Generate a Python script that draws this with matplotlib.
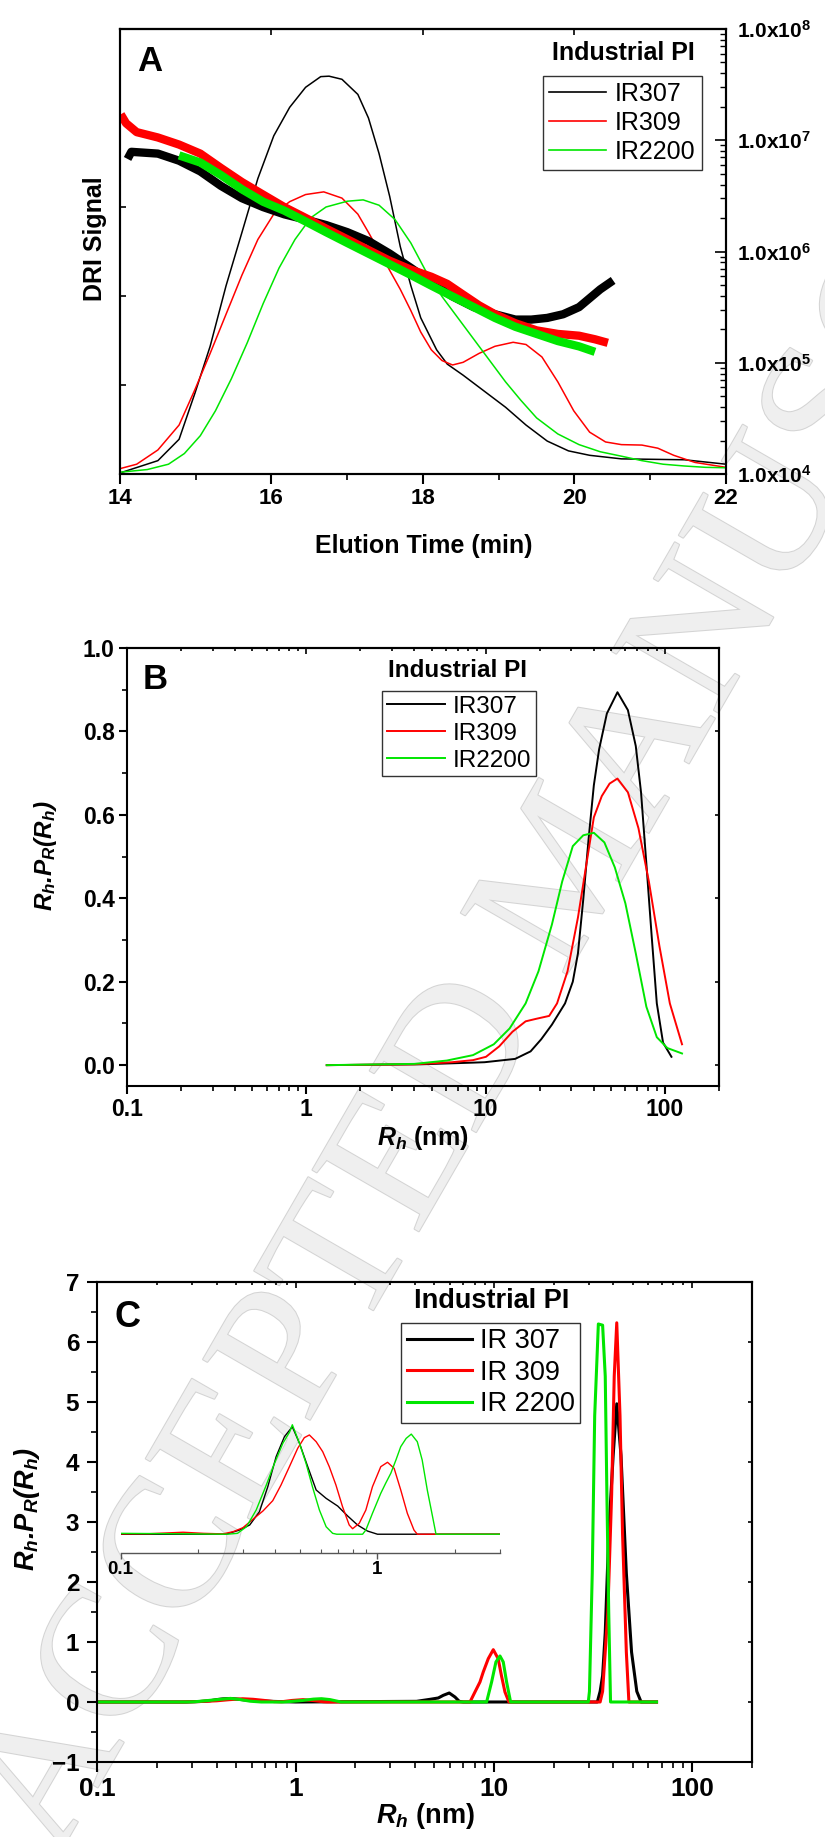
import matplotlib
matplotlib.use('Agg')
import matplotlib.pyplot as plt
import matplotlib.patheffects as pe
from matplotlib.ticker import FuncFormatter, LogLocator, NullFormatter, MultipleLocator
import numpy as np

plt.rcParams['font.family'] = ['Liberation Sans', 'DejaVu Sans']
plt.rcParams['font.weight'] = 'bold'
plt.rcParams['mathtext.fontset'] = 'custom'
plt.rcParams['mathtext.rm'] = 'Liberation Sans:bold'
plt.rcParams['mathtext.bf'] = 'Liberation Sans:bold'
plt.rcParams['mathtext.it'] = 'Liberation Sans:italic:bold'
plt.rcParams['mathtext.bfit'] = 'Liberation Sans:italic:bold'
plt.rcParams['axes.linewidth'] = 1.5

BLACK = 'black'
RED = '#ff0000'
GREEN = '#00e600'

# ---------------- panel A : GPC traces ----------------
# DRI signal (left axis, arbitrary units)
a_t_307 = [14.03, 14.50, 14.78, 14.99, 15.19, 15.40, 15.61, 15.82, 16.03, 16.24, 16.45, 16.65, 16.76,
           16.93, 17.14, 17.28, 17.42, 17.56, 17.70, 17.84, 17.97, 18.18, 18.32, 18.53, 18.81, 19.09,
           19.36, 19.64, 19.92, 20.20, 20.62, 21.45, 22.0]
a_dri_307 = [0.004, 0.030, 0.078, 0.182, 0.287, 0.423, 0.543, 0.664, 0.760, 0.824, 0.869, 0.893, 0.894,
             0.887, 0.853, 0.800, 0.720, 0.624, 0.511, 0.423, 0.351, 0.279, 0.247, 0.222, 0.186, 0.150,
             0.110, 0.074, 0.052, 0.042, 0.034, 0.032, 0.022]
a_t_309 = [14.0, 14.22, 14.50, 14.78, 14.99, 15.19, 15.40, 15.61, 15.82, 16.03, 16.24, 16.45, 16.69,
           16.93, 17.14, 17.28, 17.49, 17.70, 17.84, 17.97, 18.11, 18.25, 18.39, 18.53, 18.74, 18.95,
           19.19, 19.36, 19.57, 19.78, 19.99, 20.20, 20.41, 20.62, 20.89, 21.10, 21.31, 21.59, 22.0]
a_dri_309 = [0.012, 0.022, 0.054, 0.110, 0.190, 0.271, 0.359, 0.447, 0.527, 0.584, 0.612, 0.628, 0.634,
             0.620, 0.584, 0.543, 0.479, 0.415, 0.367, 0.319, 0.279, 0.255, 0.245, 0.251, 0.271, 0.287,
             0.296, 0.291, 0.263, 0.207, 0.142, 0.094, 0.072, 0.066, 0.065, 0.058, 0.042, 0.026, 0.015]
a_t_2200 = [14.0, 14.36, 14.64, 14.85, 15.06, 15.26, 15.47, 15.68, 15.89, 16.10, 16.31, 16.52, 16.72,
            17.00, 17.21, 17.42, 17.63, 17.84, 18.04, 18.25, 18.46, 18.67, 18.88, 19.09, 19.29, 19.50,
            19.78, 20.06, 20.34, 20.62, 20.89, 21.17, 21.45, 21.73, 22.0]
a_dri_2200 = [0.004, 0.010, 0.022, 0.046, 0.086, 0.142, 0.214, 0.295, 0.383, 0.463, 0.527, 0.576, 0.600,
              0.613, 0.616, 0.604, 0.572, 0.519, 0.455, 0.399, 0.351, 0.303, 0.255, 0.207, 0.166, 0.126,
              0.090, 0.066, 0.050, 0.040, 0.030, 0.022, 0.018, 0.015, 0.014]

# log10 molar mass (right axis)
m_t_307 = [14.10, 14.15, 14.50, 14.78, 15.06, 15.33, 15.61, 15.89, 16.17, 16.45, 16.72, 17.00, 17.28,
           17.56, 17.84, 18.11, 18.39, 18.67, 18.95, 19.22, 19.43, 19.64, 19.85, 20.06, 20.20, 20.34, 20.51]
m_log_307 = [6.832, 6.896, 6.880, 6.816, 6.720, 6.591, 6.479, 6.399, 6.334, 6.287, 6.238, 6.174, 6.094,
             5.981, 5.853, 5.725, 5.596, 5.500, 5.436, 5.388, 5.388, 5.403, 5.436, 5.500, 5.580, 5.660, 5.740]
m_t_309 = [14.01, 14.08, 14.22, 14.50, 14.78, 15.06, 15.33, 15.61, 15.89, 16.17, 16.45, 16.72, 17.00,
           17.28, 17.56, 17.84, 18.11, 18.32, 18.53, 18.74, 18.95, 19.22, 19.50, 19.78, 20.06, 20.27, 20.44]
m_log_309 = [7.233, 7.153, 7.073, 7.025, 6.961, 6.880, 6.752, 6.624, 6.511, 6.399, 6.302, 6.206, 6.110,
             6.013, 5.917, 5.837, 5.773, 5.709, 5.612, 5.516, 5.436, 5.355, 5.291, 5.259, 5.243, 5.211, 5.179]
m_t_2200 = [14.78, 15.06, 15.33, 15.61, 15.89, 16.17, 16.45, 16.72, 17.00, 17.28, 17.56, 17.84, 18.11,
            18.39, 18.67, 18.95, 19.22, 19.50, 19.78, 20.06, 20.27]
m_log_2200 = [6.864, 6.800, 6.688, 6.559, 6.447, 6.367, 6.270, 6.174, 6.077, 5.981, 5.885, 5.789, 5.693,
              5.596, 5.500, 5.403, 5.323, 5.259, 5.195, 5.147, 5.098]

# ---------------- panel B : Rh distribution from GPC ----------------
b_rh_307 = [1.30, 4.33, 8.5, 9.86, 14.6, 17.8, 20.4, 23.4, 27.7, 30.6, 32.7, 35.0, 37.5, 40.1, 42.9,
            47.4, 54.3, 62.1, 68.7, 73.5, 78.7, 84.2, 90.0, 97.5, 108.6]
b_p_307 = [0.0, 0.002, 0.006, 0.007, 0.015, 0.033, 0.062, 0.097, 0.148, 0.200, 0.268, 0.397, 0.543,
           0.671, 0.757, 0.843, 0.894, 0.851, 0.765, 0.654, 0.483, 0.311, 0.148, 0.054, 0.020]
b_rh_309 = [1.30, 4.0, 6.49, 8.5, 10.04, 11.9, 14.1, 16.7, 19.1, 22.6, 25.0, 28.6, 32.7, 36.2, 40.1,
            44.4, 49.1, 54.3, 62.1, 71.1, 81.3, 93.1, 106.4, 124.4]
b_p_309 = [0.0, 0.002, 0.007, 0.012, 0.020, 0.045, 0.080, 0.105, 0.111, 0.118, 0.148, 0.225, 0.354,
           0.474, 0.594, 0.645, 0.675, 0.687, 0.654, 0.568, 0.440, 0.285, 0.148, 0.050]
b_rh_2200 = [1.30, 4.0, 6.07, 8.5, 11.1, 13.6, 16.7, 19.7, 23.4, 26.7, 30.6, 35.0, 40.1, 45.9, 52.5,
             60.1, 68.7, 78.7, 90.0, 103.0, 124.4]
b_p_2200 = [0.0, 0.003, 0.011, 0.024, 0.050, 0.088, 0.148, 0.225, 0.337, 0.440, 0.525, 0.551, 0.557,
            0.534, 0.474, 0.388, 0.268, 0.140, 0.067, 0.041, 0.028]

# ---------------- panel C : Rh distribution from DLS ----------------
c_rh_307 = [0.1, 0.28, 0.33, 0.37, 0.40, 0.43, 0.47, 0.50, 0.55, 0.63, 0.77, 1.0, 4.07, 4.75, 5.24,
            5.55, 5.95, 6.36, 6.68, 7.0, 33.2, 34.3, 35.3, 36.4, 37.9, 39.9, 41.6, 43.7, 46.5, 49.4,
            52.5, 55.2, 66.0]
c_p_307 = [0.0, 0.0, 0.008, 0.020, 0.040, 0.052, 0.058, 0.050, 0.035, 0.020, 0.010, 0.0, 0.011, 0.044,
           0.067, 0.111, 0.150, 0.083, 0.011, 0.0, 0.0, 0.177, 0.438, 1.16, 2.80, 4.11, 4.97, 4.11, 2.145,
           0.832, 0.177, 0.0, 0.0]
c_rh_309 = [0.1, 0.15, 0.175, 0.2, 0.27, 0.33, 0.40, 0.46, 0.54, 0.61, 0.69, 0.78, 0.85, 0.96, 1.09,
            1.23, 1.39, 1.45, 7.57, 8.02, 8.50, 8.83, 9.36, 9.92, 10.5, 10.9, 11.36, 11.9, 34.3, 35.3,
            37.5, 39.2, 40.4, 41.6, 43.2, 44.5, 46.5, 47.9, 66.0]
c_p_309 = [0.0, 0.0, 0.003, 0.0, 0.0, 0.008, 0.020, 0.038, 0.054, 0.045, 0.027, 0.006, 0.004, 0.026,
           0.039, 0.024, 0.003, 0.0, 0.0, 0.167, 0.333, 0.50, 0.722, 0.872, 0.722, 0.444, 0.167, 0.0,
           0.0, 0.177, 1.49, 3.457, 5.43, 6.32, 4.77, 2.80, 0.832, 0.0, 0.0]
c_rh_2200 = [0.1, 0.28, 0.31, 0.35, 0.40, 0.47, 0.53, 0.59, 0.67, 0.87, 0.96, 1.08, 1.23, 1.35, 1.49,
             1.64, 1.69, 9.18, 9.73, 10.23, 10.72, 11.14, 11.58, 12.13, 29.9, 30.3, 31.3, 32.2, 33.6,
             35.3, 36.4, 37.1, 37.9, 38.7, 66.0]
c_p_2200 = [0.0, 0.0, 0.004, 0.02, 0.039, 0.060, 0.039, 0.013, 0.0, 0.0, 0.011, 0.025, 0.048, 0.055,
            0.040, 0.010, 0.0, 0.0, 0.333, 0.667, 0.767, 0.667, 0.333, 0.0, 0.0, 0.177, 2.145, 4.77,
            6.30, 6.28, 5.43, 3.457, 1.49, 0.0, 0.0]

# inset (0.1 - 3 nm, normalised)
i_rh_307 = [0.1, 0.257, 0.290, 0.318, 0.347, 0.374, 0.403, 0.434, 0.466, 0.497, 0.535, 0.577, 0.631,
            0.700, 0.766, 0.836, 0.914, 1.0, 3.0]
i_p_307 = [0.0, 0.0, 0.038, 0.084, 0.205, 0.432, 0.705, 0.886, 0.977, 0.826, 0.614, 0.402, 0.326,
           0.256, 0.165, 0.084, 0.029, 0.0, 0.0]
i_rh_309 = [0.1, 0.13, 0.175, 0.21, 0.25, 0.274, 0.299, 0.327, 0.358, 0.391, 0.421, 0.454, 0.489,
            0.519, 0.543, 0.577, 0.612, 0.649, 0.689, 0.731, 0.776, 0.800, 0.849, 0.901, 0.956, 1.030,
            1.094, 1.161, 1.232, 1.307, 1.387, 1.429, 3.0]
i_p_309 = [0.003, 0.005, 0.018, 0.008, 0.003, 0.023, 0.059, 0.135, 0.211, 0.305, 0.447, 0.614, 0.781,
           0.878, 0.902, 0.841, 0.750, 0.614, 0.447, 0.250, 0.084, 0.050, 0.099, 0.220, 0.432, 0.614,
           0.654, 0.599, 0.402, 0.190, 0.038, 0.0, 0.0]
i_rh_2200 = [0.1, 0.15, 0.26, 0.285, 0.309, 0.337, 0.369, 0.397, 0.428, 0.455, 0.466, 0.497, 0.527,
             0.558, 0.594, 0.631, 0.669, 0.694, 0.875, 0.901, 0.956, 1.030, 1.076, 1.127, 1.180, 1.232,
             1.293, 1.354, 1.429, 1.493, 1.563, 1.639, 1.69, 3.0]
i_p_2200 = [0.008, 0.005, 0.0, 0.008, 0.068, 0.220, 0.447, 0.644, 0.826, 0.930, 0.995, 0.826, 0.644,
            0.432, 0.220, 0.068, 0.008, 0.0, 0.0, 0.038, 0.190, 0.372, 0.463, 0.554, 0.675, 0.796,
            0.871, 0.910, 0.841, 0.675, 0.402, 0.159, 0.0, 0.0]

labels_ab = ['IR307', 'IR309', 'IR2200']
labels_c = ['IR 307', 'IR 309', 'IR 2200']
colors = [BLACK, RED, GREEN]
# plain italic text with math subscripts, so the dot gets no extra space
RH_YLABEL = r'R$_h$.P$_R$(R$_h$)'
RH_XLABEL = r'$\mathbfit{R}_\mathbfit{h}$ (nm)'


def mirror_ticks(ax, length=3):
    # inward ticks on top, no labels
    top = ax.secondary_xaxis('top')
    top.tick_params(which='both', direction='in', labeltop=False, width=1.2)
    top.tick_params(which='major', length=length + 1)
    top.tick_params(which='minor', length=length - 1)
    top.xaxis.set_minor_formatter(NullFormatter())
    return top


fig = plt.figure(figsize=(8.25, 18.37), dpi=100)

fig.text(0.695, 0.525, 'ACCEPTED MANUSCRIPT', rotation=60, ha='center', va='center',
         fontsize=135, family='Liberation Serif', weight='normal', color='#efefef', zorder=-5,
         path_effects=[pe.withStroke(linewidth=1.5, foreground='#d4d4d4')])

# ---------------- A ----------------
axA = fig.add_axes([0.14545, 0.74197, 0.73455, 0.24224])
axA.set_facecolor('none')
axA2 = axA.twinx()
axA2.set_yscale('log')
axA2.plot(m_t_307, np.power(10.0, m_log_307), color=BLACK, lw=6, solid_capstyle='butt')
axA2.plot(m_t_309, np.power(10.0, m_log_309), color=RED, lw=6, solid_capstyle='butt')
axA2.plot(m_t_2200, np.power(10.0, m_log_2200), color=GREEN, lw=6, solid_capstyle='butt')
hA = []
for t, v, c in zip([a_t_307, a_t_309, a_t_2200], [a_dri_307, a_dri_309, a_dri_2200], colors):
    hA += axA2.plot([], [], color=c, lw=1.2)
    axA.plot(t, v, color=c, lw=1.1)
axA.set_xlim(14, 22)
axA.set_ylim(0, 1)
axA2.set_ylim(1e4, 1e8)
axA.set_xticks([14, 16, 18, 20, 22])
axA.xaxis.set_minor_locator(MultipleLocator(1))
axA.set_yticks([0.2, 0.4, 0.6, 0.8])
axA.tick_params(axis='y', direction='in', length=4, width=1.2, labelleft=False)
axA.tick_params(axis='x', which='major', direction='out', length=7, width=1.5, labelsize=16, pad=3)
axA.tick_params(axis='x', which='minor', direction='out', length=4, width=1.2)
mirror_ticks(axA).set_xticks([14, 16, 18, 20, 22])
axA2.yaxis.set_major_locator(LogLocator(base=10, numticks=10))
axA2.yaxis.set_minor_locator(LogLocator(base=10, subs=np.arange(2, 10), numticks=10))
axA2.yaxis.set_major_formatter(FuncFormatter(lambda v, p: r'$\mathbf{1.0x10^{%d}}$' % round(np.log10(v))))
axA2.yaxis.set_minor_formatter(NullFormatter())
axA2.tick_params(which='major', direction='in', length=8, width=1.2, labelsize=15, pad=8)
axA2.tick_params(which='minor', direction='in', length=4, width=1.0)
axA.text(-0.042, 0.528, 'DRI Signal', transform=axA.transAxes, rotation=90, ha='center', va='center', fontsize=18)
axA.text(0.502, -0.162, 'Elution Time (min)', transform=axA.transAxes, ha='center', va='center', fontsize=18)
axA.text(0.0495, 0.928, 'A', transform=axA.transAxes, ha='center', va='center', fontsize=25)
axA.text(0.830, 0.946, 'Industrial PI', transform=axA.transAxes, ha='center', va='center', fontsize=18)
legA = axA2.legend(hA, labels_ab, loc='upper right', bbox_to_anchor=(0.9604, 0.8944), borderaxespad=0,
                   prop={'size': 18, 'weight': 'normal'}, fancybox=False, edgecolor='black',
                   handlelength=2.3, handletextpad=0.35, labelspacing=0.2, borderpad=0.25)
legA.get_frame().set_linewidth(1.0)

# ---------------- B ----------------
axB = fig.add_axes([0.15394, 0.40882, 0.71758, 0.23843])
axB.set_facecolor('none')
hB = []
for r, p, c in zip([b_rh_307, b_rh_309, b_rh_2200], [b_p_307, b_p_309, b_p_2200], colors):
    hB += axB.plot(r, p, color=c, lw=1.4)
axB.set_xscale('log')
axB.set_xlim(0.1, 200)
axB.set_ylim(-0.05, 1.0)
axB.set_xticks([0.1, 1, 10, 100])
axB.xaxis.set_major_formatter(FuncFormatter(lambda v, p: '%g' % v))
axB.xaxis.set_minor_formatter(NullFormatter())
axB.set_yticks([0.0, 0.2, 0.4, 0.6, 0.8, 1.0])
axB.yaxis.set_major_formatter(FuncFormatter(lambda v, p: '%.1f' % v))
axB.yaxis.set_minor_locator(MultipleLocator(0.1))
axB.tick_params(which='major', direction='out', length=6, width=1.5, labelsize=16.5, pad=3)
axB.tick_params(which='minor', direction='out', length=3.5, width=1.2)
mirror_ticks(axB).set_xticks([0.1, 1, 10, 100])
rB = axB.secondary_yaxis('right')
rB.tick_params(which='both', direction='in', length=3, labelright=False, width=1.2)
rB.set_yticks([0.0, 0.2, 0.4, 0.6, 0.8, 1.0])
axB.text(-0.1385, 0.527, RH_YLABEL, transform=axB.transAxes, rotation=90, style='italic',
         ha='center', va='center', fontsize=17.5)
axB.text(0.5, -0.119, RH_XLABEL, transform=axB.transAxes, ha='center', va='center', fontsize=18)
axB.text(0.047, 0.927, 'B', transform=axB.transAxes, ha='center', va='center', fontsize=25)
axB.text(0.559, 0.9475, 'Industrial PI', transform=axB.transAxes, ha='center', va='center', fontsize=17.5)
legB = axB.legend(hB, labels_ab, loc='upper right', bbox_to_anchor=(0.6909, 0.9018), borderaxespad=0,
                  prop={'size': 17.5, 'weight': 'normal'}, fancybox=False, edgecolor='black',
                  handlelength=2.4, handletextpad=0.3, labelspacing=0.2, borderpad=0.2)
legB.get_frame().set_linewidth(1.0)

# ---------------- C ----------------
axC = fig.add_axes([0.11794, 0.04083, 0.79358, 0.26130])
axC.set_facecolor('none')
hC = []
for r, p, c in zip([c_rh_307, c_rh_309, c_rh_2200], [c_p_307, c_p_309, c_p_2200], colors):
    hC += axC.plot(r, p, color=c, lw=2.2)
axC.set_xscale('log')
axC.set_xlim(0.1, 200)
axC.set_ylim(-1, 7)
axC.set_xticks([0.1, 1, 10, 100])
axC.xaxis.set_major_formatter(FuncFormatter(lambda v, p: '%g' % v))
axC.xaxis.set_minor_formatter(NullFormatter())
axC.set_yticks(range(-1, 8))
axC.yaxis.set_minor_locator(MultipleLocator(0.5))
axC.tick_params(which='major', direction='out', length=7, width=1.5, pad=4)
axC.tick_params(axis='x', which='major', labelsize=19)
axC.tick_params(axis='y', which='major', labelsize=17.5, pad=6)
axC.tick_params(which='minor', direction='out', length=4, width=1.2)
mirror_ticks(axC).set_xticks([0.1, 1, 10, 100])
rC = axC.secondary_yaxis('right')
rC.tick_params(which='both', direction='in', length=3, labelright=False, width=1.2)
rC.set_yticks(range(-1, 8))
axC.text(-0.107, 0.527, RH_YLABEL, transform=axC.transAxes, rotation=90, style='italic',
         ha='center', va='center', fontsize=19.5)
axC.text(0.502, -0.1125, RH_XLABEL, transform=axC.transAxes, ha='center', va='center', fontsize=19.5)
axC.text(0.0466, 0.925, 'C', transform=axC.transAxes, ha='center', va='center', fontsize=26)
axC.text(0.6029, 0.9594, 'Industrial PI', transform=axC.transAxes, ha='center', va='center', fontsize=19.5)
legC = axC.legend(hC, labels_c, loc='upper right', bbox_to_anchor=(0.7373, 0.9146), borderaxespad=0,
                  prop={'size': 19.5, 'weight': 'normal'}, fancybox=False, edgecolor='black',
                  handlelength=2.4, handletextpad=0.3, labelspacing=0.2, borderpad=0.2)
legC.get_frame().set_linewidth(1.0)

# inset
axI = fig.add_axes([0.14630, 0.15476, 0.45976, 0.07594])
axI.set_facecolor('none')
for r, p, c in zip([i_rh_307, i_rh_309, i_rh_2200], [i_p_307, i_p_309, i_p_2200], colors):
    axI.plot(r, p, color=c, lw=1.0)
axI.set_xscale('log')
axI.set_xlim(0.1, 3)
axI.set_ylim(-0.168, 1.1)
for s in ['left', 'right', 'top']:
    axI.spines[s].set_visible(False)
axI.spines['bottom'].set_color('#555555')
axI.spines['bottom'].set_linewidth(1.0)
axI.set_yticks([])
axI.set_xticks([0.1, 1])
axI.xaxis.set_major_formatter(FuncFormatter(lambda v, p: '%g' % v))
axI.xaxis.set_minor_formatter(NullFormatter())
axI.tick_params(which='major', direction='out', length=4, width=1.0, color='#555555', labelsize=13.5, pad=2)
axI.tick_params(which='minor', direction='in', length=3, width=0.8, color='#555555')

fig.savefig('out.png', dpi=100)
